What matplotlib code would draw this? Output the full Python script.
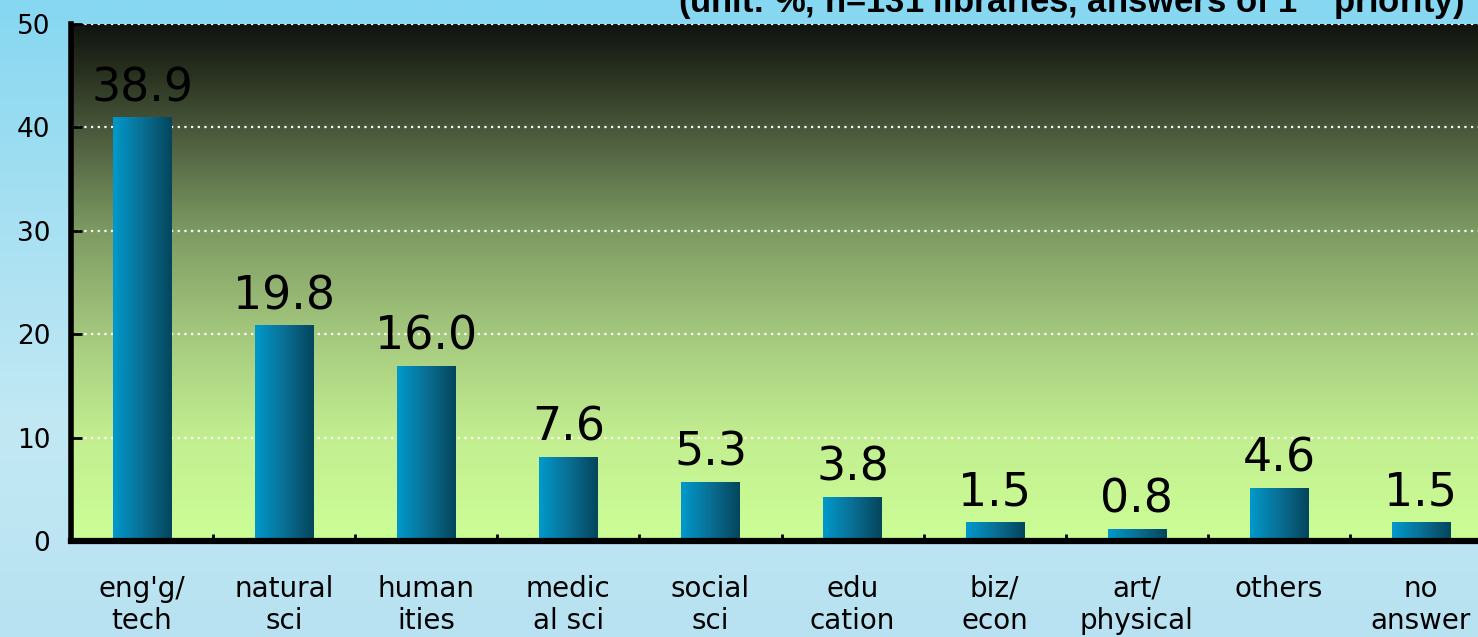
"""Preferred subject fields bar chart."""

import numpy as np
import matplotlib
matplotlib.use('Agg')
import matplotlib.pyplot as plt
from matplotlib.colors import LinearSegmentedColormap

categories = ["eng'g/\ntech", "natural\nsci", "human\nities", "medic\nal sci",
              "social\nsci", "edu\ncation", "biz/\necon", "art/\nphysical",
              "others", "no\nanswer"]
# bar heights as drawn in the picture, and the printed labels
bar_heights = [40.9, 20.8, 16.9, 8.1, 5.7, 4.2, 1.8, 1.1, 5.1, 1.8]
value_labels = ['38.9', '19.8', '16.0', '7.6', '5.3', '3.8', '1.5', '0.8', '4.6', '1.5']
y_ticks = [0, 10, 20, 30, 40, 50]
note = r"(unit: %, n=131 libraries, answers of 1$^{\mathbf{st}}$ priority)"

plt.rcParams['font.family'] = ['DejaVu Sans']

W, H, DPI = 1478, 637, 100
fig = plt.figure(figsize=(W / DPI, H / DPI), dpi=DPI)

# light blue page background
bg = fig.add_axes([0, 0, 1, 1], zorder=-10)
bg_cmap = LinearSegmentedColormap.from_list('bg', ['#86d7f1', '#a6e0f2', '#c2e8f4', '#b8e2f1'])
bg.imshow(np.linspace(0, 1, 256).reshape(-1, 1), cmap=bg_cmap, aspect='auto',
          extent=[0, 1, 0, 1], origin='upper')
bg.axis('off')

# plot area, runs off the right edge
left, bottom = 71 / W, 95.7 / H
ax = fig.add_axes([left, bottom, 10 * 142.1 / W, (541.3 - 24) / H])
x = np.arange(len(categories))

plot_cmap = LinearSegmentedColormap.from_list(
    'plot', [(0.0, '#ccfe96'), (0.2, '#c2ee90'), (0.4, '#a4c87e'),
             (0.6, '#7d9a62'), (0.8, '#48563a'), (0.9, '#2a3320'), (1.0, '#111410')])
ax.imshow(np.linspace(0, 1, 256).reshape(-1, 1), cmap=plot_cmap, aspect='auto',
          extent=[-0.5, len(categories) - 0.5, 0, 50], origin='lower', zorder=0)

bar_cmap = LinearSegmentedColormap.from_list('bar', ['#0099cb', '#0a6f94', '#04465d'])
bars = ax.bar(x, bar_heights, width=0.41, color='none', zorder=2)
for rect, lab in zip(bars, value_labels):
    x0, w, h = rect.get_x(), rect.get_width(), rect.get_height()
    ax.imshow(np.linspace(0, 1, 64).reshape(1, -1), cmap=bar_cmap, aspect='auto',
              extent=[x0, x0 + w, 0, h], zorder=2)
    ax.annotate(lab, (x0 + w / 2, h), xytext=(0, 5), textcoords='offset points',
                ha='center', va='bottom', fontsize=33, color='black', zorder=4)

ax.set_xlim(-0.5, len(categories) - 0.5)
ax.set_ylim(0, 50)
ax.set_yticks(y_ticks)
ax.tick_params(axis='y', direction='in', length=8, width=2, labelsize=19, pad=15)
ax.set_xticks(x)
ax.set_xticklabels(categories, fontsize=20, linespacing=1.2)
ax.tick_params(axis='x', length=0, pad=24)
ax.set_xticks(x[:-1] + 0.5, minor=True)
ax.tick_params(axis='x', which='minor', direction='in', length=5, width=2)

ax.set_axisbelow(True)
ax.yaxis.grid(True, color='white', linestyle=(0, (1, 2)), linewidth=1.6)
for side in ['top', 'right']:
    ax.spines[side].set_visible(False)
ax.spines['left'].set_linewidth(4)
ax.spines['bottom'].set_linewidth(4.5)

# note at the top, cut off by the picture edge as in the original
title = fig.text(1465 / W, 1 - 12.5 / H, note, ha='right', va='baseline',
                 fontsize=24, fontweight='bold', family=['Liberation Sans', 'DejaVu Sans'])
fig.canvas.draw()
tw = title.get_window_extent().width
title.set_fontsize(24 * 787 / tw)

fig.savefig('out.png', dpi=DPI)
